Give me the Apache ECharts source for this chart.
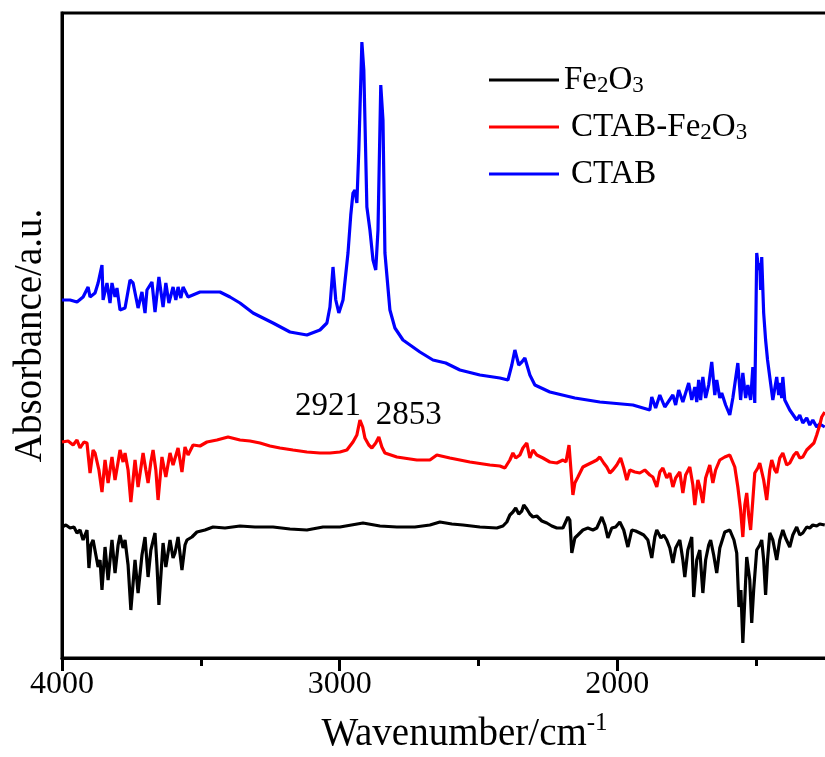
<!DOCTYPE html>
<html lang="en">

<head>
    <meta charset="UTF-8">
    <title>FTIR</title>
    <style>
        html, body { margin: 0; padding: 0; background: #fff; overflow: hidden; }
    </style>
</head>

<body>
    <!-- the frame runs past the right edge of the window, as in the original figure -->
    <div id="main" style="width: 895px; height: 757px"></div>
    <script src="https://cdn.jsdelivr.net/npm/echarts@6/dist/echarts.min.js"></script>
    <script type="text/javascript">
        // spectra: [wavenumber, absorbance (a.u.)]
        var ctab = [
            [4000, 358], [3971, 358], [3946, 356], [3924, 361], [3906, 371], [3899, 361], [3881, 365], [3870, 375],
            [3856, 393], [3852, 358], [3838, 375], [3827, 355], [3820, 375], [3809, 361], [3802, 370], [3791, 348],
            [3773, 350], [3755, 378], [3744, 375], [3726, 350], [3712, 366], [3701, 345], [3694, 368], [3676, 376],
            [3665, 346], [3651, 381], [3636, 351], [3626, 375], [3615, 355], [3600, 371], [3590, 358], [3582, 371],
            [3572, 360], [3564, 371], [3546, 361], [3503, 366], [3431, 366], [3395, 361], [3359, 355], [3312, 345],
            [3240, 335], [3179, 326], [3118, 323], [3071, 328], [3046, 335], [3035, 351], [3024, 391], [3014, 358],
            [3003, 345], [2988, 358], [2970, 405], [2960, 443], [2952, 465], [2945, 468], [2938, 455], [2931, 508],
            [2920, 616], [2913, 588], [2902, 451], [2891, 428], [2880, 398], [2870, 388], [2862, 428], [2852, 573],
            [2844, 538], [2837, 405], [2819, 348], [2801, 330], [2772, 318], [2711, 306], [2664, 298], [2618, 295],
            [2567, 288], [2495, 283], [2423, 280], [2394, 278], [2380, 293], [2369, 308], [2355, 293], [2344, 296],
            [2333, 300], [2315, 283], [2297, 273], [2243, 266], [2153, 260], [2063, 256], [1944, 253], [1883, 248],
            [1876, 261], [1862, 250], [1847, 263], [1829, 251], [1800, 263], [1790, 253], [1779, 268], [1764, 256],
            [1743, 275], [1732, 258], [1721, 271], [1714, 256], [1707, 278], [1700, 258], [1692, 281], [1682, 260],
            [1671, 273], [1660, 296], [1649, 263], [1642, 278], [1631, 260], [1624, 265], [1610, 253], [1595, 243],
            [1584, 260], [1577, 258], [1566, 295], [1556, 258], [1548, 285], [1538, 260], [1530, 273], [1520, 258],
            [1512, 291], [1505, 255], [1498, 405], [1491, 388], [1487, 395], [1484, 368], [1480, 401], [1473, 345],
            [1466, 318], [1459, 298], [1451, 281], [1440, 258], [1426, 281], [1419, 263], [1415, 275], [1408, 260],
            [1404, 281], [1397, 258], [1379, 248], [1354, 238], [1343, 243], [1332, 235], [1318, 240], [1307, 233],
            [1296, 238], [1282, 231], [1271, 234], [1253, 231]
        ];

        var ctabFe2O3 = [
            [4000, 216], [3996, 215], [3978, 217], [3960, 213], [3946, 218], [3935, 210], [3921, 216], [3910, 215],
            [3899, 185], [3888, 208], [3881, 205], [3867, 188], [3856, 166], [3845, 198], [3834, 175], [3820, 201],
            [3809, 178], [3798, 196], [3791, 208], [3780, 196], [3773, 205], [3762, 188], [3752, 156], [3737, 198],
            [3726, 171], [3708, 205], [3698, 188], [3690, 175], [3680, 196], [3672, 208], [3662, 188], [3654, 158],
            [3640, 201], [3626, 181], [3611, 205], [3600, 193], [3593, 195], [3582, 210], [3568, 186], [3557, 211],
            [3546, 203], [3528, 213], [3503, 212], [3478, 216], [3442, 218], [3402, 221], [3359, 218], [3323, 217],
            [3287, 215], [3251, 212], [3215, 210], [3168, 208], [3118, 206], [3071, 205], [3035, 205], [2999, 206],
            [2974, 208], [2952, 216], [2938, 223], [2927, 238], [2917, 231], [2909, 220], [2895, 213], [2884, 210],
            [2870, 215], [2859, 221], [2848, 211], [2837, 205], [2794, 201], [2722, 198], [2675, 198], [2650, 203],
            [2603, 200], [2531, 196], [2459, 193], [2423, 192], [2405, 190], [2387, 198], [2376, 205], [2366, 200],
            [2351, 203], [2340, 210], [2326, 215], [2315, 200], [2304, 208], [2290, 203], [2268, 200], [2243, 196],
            [2218, 195], [2196, 198], [2185, 196], [2174, 213], [2167, 211], [2160, 163], [2153, 175], [2142, 181],
            [2124, 191], [2110, 193], [2088, 196], [2074, 198], [2063, 201], [2049, 195], [2038, 191], [2027, 185],
            [2016, 188], [2002, 193], [1988, 200], [1977, 190], [1966, 178], [1955, 188], [1937, 186], [1919, 185],
            [1901, 188], [1883, 183], [1872, 181], [1858, 171], [1847, 186], [1836, 190], [1822, 180], [1811, 185],
            [1800, 171], [1790, 180], [1775, 186], [1764, 165], [1754, 183], [1739, 191], [1728, 173], [1721, 153],
            [1710, 178], [1703, 171], [1692, 155], [1682, 180], [1667, 193], [1656, 175], [1646, 188], [1631, 198],
            [1613, 201], [1595, 203], [1577, 191], [1566, 171], [1556, 148], [1548, 121], [1541, 153], [1534, 165],
            [1527, 143], [1520, 128], [1512, 158], [1505, 185], [1494, 190], [1487, 195], [1473, 178], [1462, 158],
            [1451, 188], [1444, 198], [1433, 188], [1426, 185], [1415, 200], [1404, 205], [1390, 193], [1379, 195],
            [1364, 203], [1354, 206], [1343, 200], [1332, 201], [1318, 208], [1307, 211], [1292, 215], [1282, 223],
            [1271, 233], [1264, 241], [1253, 246]
        ];

        var fe2o3 = [
            [4000, 131], [3986, 133], [3971, 130], [3957, 131], [3946, 125], [3935, 128], [3924, 118], [3910, 128],
            [3903, 90], [3896, 113], [3888, 118], [3878, 103], [3870, 91], [3863, 98], [3856, 68], [3845, 111],
            [3834, 78], [3820, 118], [3809, 85], [3798, 113], [3791, 123], [3780, 110], [3773, 118], [3762, 93],
            [3752, 48], [3737, 98], [3726, 65], [3712, 103], [3701, 121], [3690, 81], [3680, 108], [3665, 125],
            [3658, 93], [3651, 53], [3636, 115], [3626, 91], [3611, 118], [3600, 100], [3593, 105], [3582, 121],
            [3568, 88], [3557, 113], [3550, 118], [3532, 121], [3514, 126], [3485, 128], [3456, 131], [3413, 130],
            [3359, 132], [3305, 131], [3240, 131], [3179, 129], [3118, 128], [3060, 131], [2999, 131], [2916, 135],
            [2855, 132], [2794, 131], [2729, 131], [2675, 133], [2639, 136], [2596, 134], [2556, 133], [2495, 131],
            [2434, 130], [2412, 132], [2398, 136], [2387, 143], [2376, 146], [2366, 150], [2355, 144], [2344, 147],
            [2337, 153], [2326, 149], [2315, 144], [2304, 141], [2290, 142], [2272, 137], [2254, 135], [2236, 132],
            [2218, 130], [2196, 130], [2178, 141], [2171, 138], [2164, 105], [2153, 120], [2142, 123], [2124, 128],
            [2106, 130], [2088, 128], [2074, 130], [2056, 141], [2045, 133], [2034, 120], [2020, 130], [2006, 131],
            [1991, 136], [1977, 128], [1962, 111], [1948, 128], [1934, 127], [1919, 125], [1905, 123], [1890, 118],
            [1876, 100], [1865, 121], [1858, 128], [1843, 120], [1833, 123], [1822, 118], [1811, 110], [1800, 95],
            [1790, 110], [1775, 118], [1764, 98], [1757, 81], [1746, 108], [1732, 121], [1725, 61], [1714, 98],
            [1703, 108], [1692, 65], [1682, 98], [1671, 113], [1664, 118], [1653, 103], [1642, 85], [1631, 110],
            [1613, 126], [1595, 128], [1580, 118], [1570, 105], [1562, 51], [1555, 68], [1548, 15], [1541, 58],
            [1534, 101], [1523, 78], [1516, 35], [1509, 68], [1498, 108], [1487, 113], [1480, 118], [1473, 98],
            [1466, 63], [1459, 98], [1451, 125], [1440, 118], [1426, 98], [1415, 118], [1404, 128], [1394, 120],
            [1379, 111], [1368, 123], [1354, 131], [1343, 123], [1332, 125], [1318, 131], [1307, 130], [1296, 133],
            [1282, 132], [1271, 134], [1253, 133]
        ];

        // labelled peaks of CTAB-Fe2O3
        var peakLabels = [
            { coord: [2927, 238], value: '2921', offset: [-32, -14] },
            { coord: [2859, 221], value: '2853', offset: [30, -22] }
        ];

        var serif = '"Liberation Serif", "Times New Roman", serif';
        var myChart = echarts.init(document.getElementById('main'));

        var option = {
            animation: false,
            backgroundColor: '#fff',
            grid: {
                left: 62,
                right: 0,
                top: 13,
                bottom: 99,
                outerBoundsMode: 'none',
                show: true,
                borderColor: '#000',
                borderWidth: 3
            },
            legend: {
                data: ['Fe2O3', 'CTAB-Fe2O3', 'CTAB'],
                orient: 'vertical',
                left: 489,
                top: 63,
                padding: 0,
                icon: 'rect',
                itemWidth: 70,
                itemHeight: 3,
                itemGap: 13,
                formatter: function(name) {
                    var s = name.replace('Fe2O3', 'Fe{s|2}O{s|3}');
                    return name === 'Fe2O3' ? s : '{g|}' + s;
                },
                textStyle: {
                    fontFamily: serif,
                    fontSize: 33,
                    lineHeight: 34,
                    color: '#000',
                    rich: {
                        s: { fontFamily: serif, fontSize: 23, color: '#000', verticalAlign: 'bottom', lineHeight: 34 },
                        g: { width: 7 }
                    }
                }
            },
            xAxis: {
                type: 'value',
                inverse: true,
                min: 1000,
                max: 4000,
                interval: 1000,
                name: '{a|Wavenumber/cm}{b|-1}',
                nameLocation: 'middle',
                nameGap: 53,
                nameTextStyle: {
                    padding: [0, 28, 0, 0],
                    rich: {
                        a: { fontFamily: serif, fontSize: 39, color: '#000' },
                        b: { fontFamily: serif, fontSize: 25, color: '#000', padding: [0, 0, 23, 0] }
                    }
                },
                axisLine: { lineStyle: { color: '#000', width: 3 } },
                axisTick: { length: 13, lineStyle: { color: '#000', width: 3 } },
                minorTick: { show: true, splitNumber: 2, length: 8, lineStyle: { color: '#000', width: 3 } },
                axisLabel: {
                    fontFamily: serif,
                    fontSize: 32,
                    color: '#000',
                    margin: 11,
                    formatter: function(v) {
                        return String(v);
                    }
                },
                splitLine: { show: false }
            },
            yAxis: {
                type: 'value',
                min: 0,
                max: 645,
                name: 'Absorbance/a.u.',
                nameLocation: 'middle',
                nameGap: 12,
                nameTextStyle: { fontFamily: serif, fontSize: 39, color: '#000' },
                axisLine: { show: true, lineStyle: { color: '#000', width: 3 } },
                axisTick: { show: false },
                axisLabel: { show: false },
                splitLine: { show: false }
            },
            series: [{
                    name: 'CTAB',
                    type: 'line',
                    data: ctab,
                    showSymbol: false,
                    color: '#0000ff',
                    lineStyle: { width: 3.2 }
                },
                {
                    name: 'CTAB-Fe2O3',
                    type: 'line',
                    data: ctabFe2O3,
                    showSymbol: false,
                    color: '#ff0000',
                    lineStyle: { width: 3.2 },
                    markPoint: {
                        symbol: 'circle',
                        symbolSize: 0,
                        data: peakLabels.map(function(p) {
                            return {
                                coord: p.coord,
                                value: p.value,
                                label: { offset: p.offset }
                            };
                        }),
                        label: {
                            show: true,
                            position: 'inside',
                            fontFamily: serif,
                            fontSize: 33,
                            color: '#000'
                        }
                    }
                },
                {
                    name: 'Fe2O3',
                    type: 'line',
                    data: fe2o3,
                    showSymbol: false,
                    color: '#000000',
                    lineStyle: { width: 3.2 }
                }
            ]
        };
        myChart.setOption(option);

        window.onresize = function() {
            myChart.resize();
        };
    </script>

</body>

</html>
